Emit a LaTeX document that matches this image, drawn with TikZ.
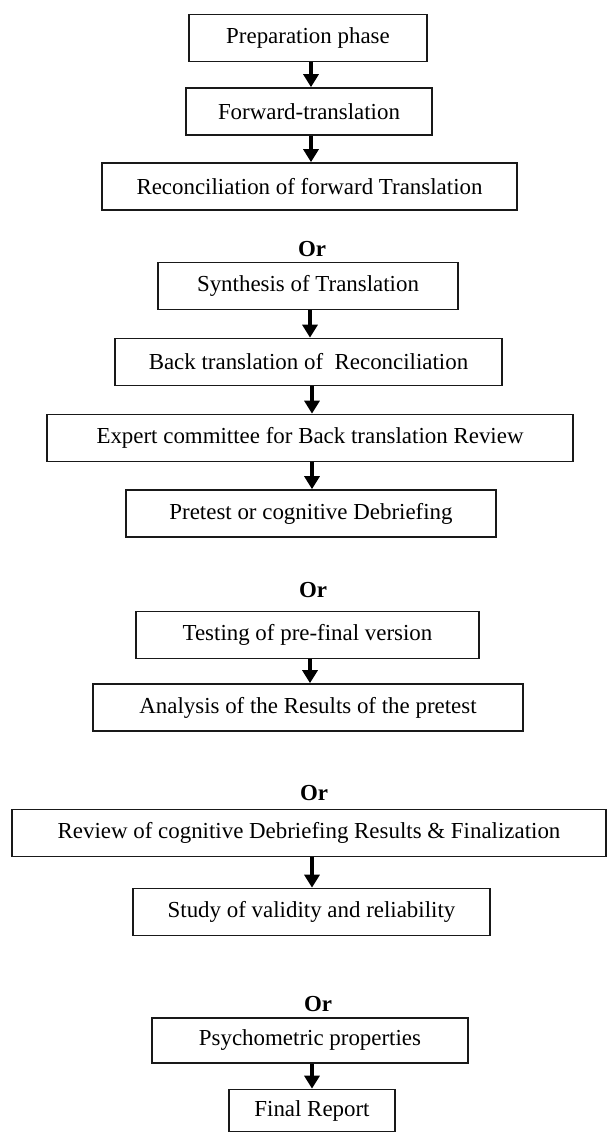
\documentclass[tikz,border=0pt]{standalone}
\usepackage{fontspec}
\setmainfont{Liberation Serif}
\usetikzlibrary{arrows.meta}
\begin{document}
\begin{tikzpicture}[x=1bp,y=-1bp,
  box/.style={draw=black!90, line width=1.7bp, minimum height=47bp, inner sep=0pt,
              font=\fontsize{23}{26}\selectfont, text=black},
  ortext/.style={font=\fontsize{23}{26}\selectfont\bfseries, text=black, inner sep=0pt},
  arr/.style={draw=black, line width=3.4bp, -{Triangle[length=13bp,width=15bp]}}]
\useasboundingbox (0,0) rectangle (609,1133);
\fill[white] (0,0) rectangle (609,1133);

\node[box, minimum width=238bp] (prep) at (308,38) {Preparation phase};
\node[box, minimum width=246bp] (fwd) at (309,111.5) {Forward-translation};
\node[box, minimum width=415bp] (recon) at (309.5,186.5) {Reconciliation of forward Translation};
\node[ortext] (or1) at (312,249) {Or};
\node[box, minimum width=300bp] (synth) at (308,286) {Synthesis of Translation};
\node[box, minimum width=387bp] (back) at (308.5,362) {Back translation of\ \ Reconciliation};
\node[box, minimum width=526bp] (expert) at (310,438) {Expert committee for Back translation Review};
\node[box, minimum width=370bp] (pretest) at (311,513.5) {Pretest or cognitive Debriefing};
\node[ortext] (or2) at (313,590) {Or};
\node[box, minimum width=343bp] (testing) at (307.5,635) {Testing of pre-final version};
\node[box, minimum width=430bp] (analysis) at (308,707.5) {Analysis of the Results of the pretest};
\node[ortext] (or3) at (314,793) {Or};
\node[box, minimum width=594bp] (review) at (309,833) {Review of cognitive Debriefing Results \& Finalization};
\node[box, minimum width=357bp] (study) at (311.5,912) {Study of validity and reliability};
\node[ortext] (or4) at (318,1004) {Or};
\node[box, minimum width=316bp, minimum height=45bp] (psycho) at (310,1040.5) {Psychometric properties};
\node[box, minimum width=166bp, minimum height=42bp] (final) at (312,1110.5) {Final Report};

\draw[arr] (prep.south -| 311,0) -- (fwd.north -| 311,0);
\draw[arr] (fwd.south -| 311,0) -- (recon.north -| 311,0);
\draw[arr] (synth.south -| 310,0) -- (back.north -| 310,0);
\draw[arr] (back.south -| 312,0) -- (expert.north -| 312,0);
\draw[arr] (expert.south -| 312,0) -- (pretest.north -| 312,0);
\draw[arr] (testing.south -| 310,0) -- (analysis.north -| 310,0);
\draw[arr] (review.south -| 312,0) -- (study.north -| 312,0);
\draw[arr] (psycho.south -| 312,0) -- (final.north -| 312,0);
\end{tikzpicture}
\end{document}
